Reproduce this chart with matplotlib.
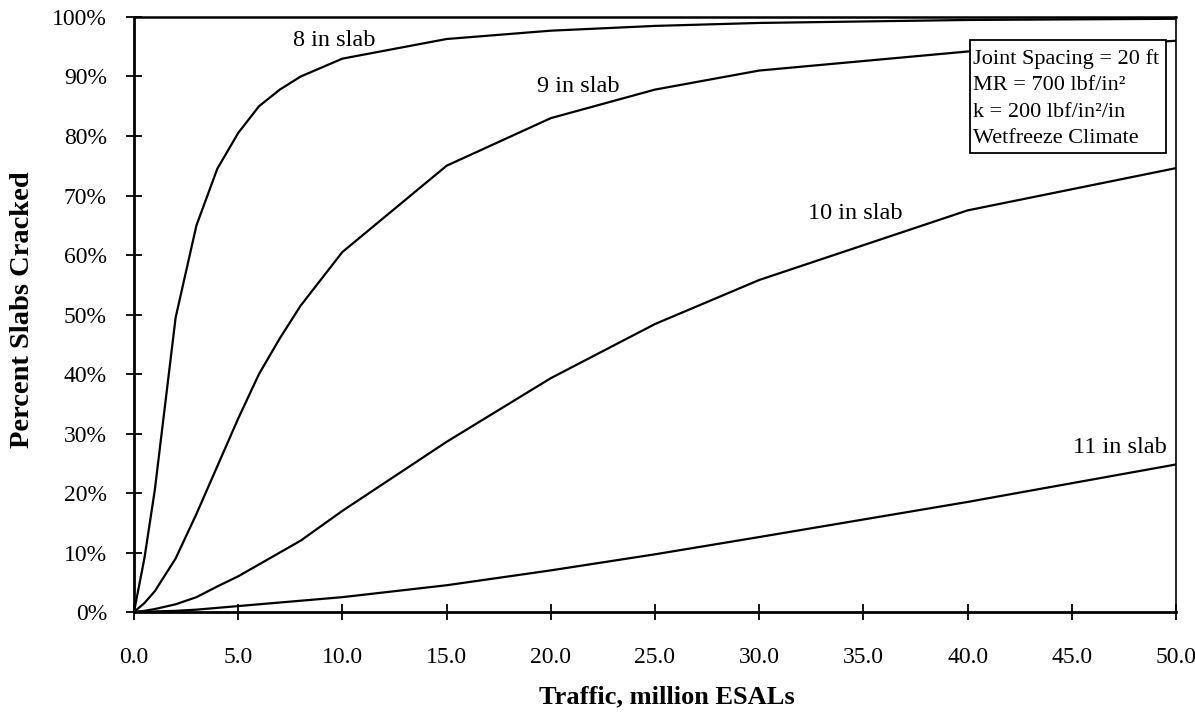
import matplotlib.pyplot as plt
from matplotlib.patches import Rectangle
from matplotlib.ticker import FuncFormatter

plt.rcParams['font.family'] = ['Liberation Serif', 'DejaVu Serif']

# traffic in million ESALs
esals = [0, 0.5, 1, 2, 3, 4, 5, 6, 7, 8, 10, 15, 20, 25, 30, 40, 50]

# percent slabs cracked for each slab thickness
slab_8 = [0, 9, 20.5, 49.5, 65, 74.5, 80.5, 85, 87.8, 90, 93, 96.3, 97.7, 98.5, 99, 99.5, 99.7]
slab_9 = [0, 1.5, 3.5, 9, 16.5, 24.5, 32.5, 40, 46, 51.5, 60.5, 75, 83, 87.8, 91, 94.2, 96]
slab_10 = [0, 0.2, 0.5, 1.3, 2.5, 4.3, 6, 8, 10, 12, 17, 28.6, 39.3, 48.4, 55.8, 67.5, 74.6]
slab_11 = [0, 0.05, 0.1, 0.2, 0.4, 0.7, 1.0, 1.3, 1.6, 1.9, 2.5, 4.5, 7, 9.7, 12.6, 18.5, 24.8]

curves = [
    ("8 in slab", slab_8, 9.6, 96.0),
    ("9 in slab", slab_9, 21.3, 88.4),
    ("10 in slab", slab_10, 34.6, 67.0),
    ("11 in slab", slab_11, 47.3, 27.7),
]

notes = "Joint Spacing = 20 ft\nMR = 700 lbf/in\u00b2\nk = 200 lbf/in\u00b2/in\nWetfreeze Climate"

fig = plt.figure(figsize=(11.95, 7.17), dpi=100)
ax = fig.add_axes([0.1121, 0.1464, 0.9841 - 0.1121, 0.9763 - 0.1464])

for name, vals, lx, ly in curves:
    ax.plot(esals, vals, color="black", lw=1.6, zorder=2)
    ax.text(lx, ly, name, ha="center", va="center", fontsize=17.5)

ax.set_xlim(0, 50)
ax.set_ylim(0, 100)
ax.set_xticks(range(0, 51, 5))
ax.set_yticks(range(0, 101, 10))
ax.xaxis.set_major_formatter(FuncFormatter(lambda v, p: f"{v:.1f}"))
ax.yaxis.set_major_formatter(FuncFormatter(lambda v, p: f"{v:.0f}%"))
ax.tick_params(direction="inout", length=11, width=1.3, labelsize=17)
ax.tick_params(axis="y", pad=14)
ax.tick_params(axis="x", pad=20)

ax.spines["left"].set_linewidth(2)
ax.spines["bottom"].set_linewidth(2)
ax.spines["top"].set_linewidth(1.8)
ax.spines["right"].set_linewidth(1.2)

fig.text(667 / 1195, 1 - 697 / 717, "Traffic, million ESALs", fontsize=19,
         fontweight="bold", ha="center", va="center")
fig.text(23 / 1195, 1 - 310 / 717, "Percent Slabs Cracked", fontsize=20.5,
         fontweight="bold", ha="center", va="center", rotation=90)

# boxed note with the design inputs, covering the curves beneath it
ax.add_patch(Rectangle((0.8023, 0.7714), 0.1881, 0.1899, transform=ax.transAxes,
                       fc="white", ec="black", lw=1.3, zorder=4))
ax.text(0.8055, 0.946, notes, transform=ax.transAxes, ha="left", va="top",
        fontsize=16, linespacing=1.52, zorder=5)

fig.savefig("out.png", dpi=100)
